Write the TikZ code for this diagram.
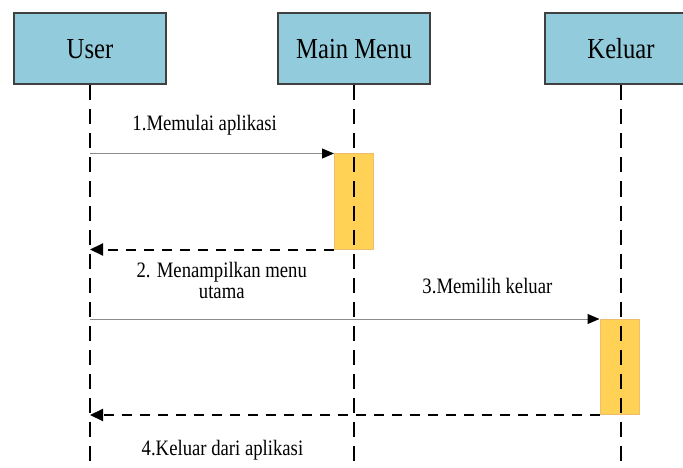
\documentclass[tikz,border=0pt]{standalone}
\usepackage{fontspec}
\setmainfont{Liberation Serif}
\newfontfamily\condserif{Liberation Serif}[FakeStretch=0.85]
\usetikzlibrary{arrows.meta}

\definecolor{objfill}{RGB}{146,204,220}
\definecolor{actfill}{RGB}{255,210,85}
\definecolor{actline}{RGB}{238,190,110}

\tikzset{
  obj/.style={draw=black!75, line width=2pt, fill=objfill, minimum width=152pt,
    minimum height=71pt, font=\condserif\fontsize{29}{34}\selectfont},
  act/.style={draw=actline, line width=1pt, fill=actfill, minimum width=39pt,
    minimum height=95pt, inner sep=0pt},
  life/.style={line width=1.6pt, dash pattern=on 15pt off 9pt},
  msg/.style={draw=black!45, line width=1pt, -{Triangle[length=12pt,width=10pt,black]}},
  ret/.style={line width=2pt, dash pattern=on 10pt off 8pt, -{Triangle[length=13pt,width=12pt]}},
  lbl/.style={font=\condserif\fontsize{22}{21}\selectfont, inner sep=0pt, align=center},
}

\begin{document}
\begin{tikzpicture}[x=1pt, y=-1pt]
\useasboundingbox (0,0) rectangle (683,468);
\clip (0,0) rectangle (683,468);

\def\ux{90}
\def\mx{354}
\def\kx{621}

% objects
\node[obj] (user) at (\ux,49) {User};
\node[obj] (menu) at (\mx,49) {Main Menu};
\node[obj] (keluar) at (\kx,49) {Keluar};

% activation bars
\node[act] (act1) at (\mx,201.5) {};
\node[act] (act2) at (619.5,367) {};

% lifelines
\foreach \o in {user,menu,keluar}
  \draw[life] (\o.south) -- (\o.south |- 0,468);

% messages
\draw[msg] (act1.north west -| user) -- (act1.north west)
  node[lbl, pos=0.47, above=18pt] {1.Memulai aplikasi};
\draw[ret] (act1.south west) -- (act1.south west -| user)
  node[lbl, pos=0.46, below=12pt] {2. Menampilkan menu\\utama};
\draw[msg] (act2.north west -| user) -- (act2.north west)
  node[lbl, pos=0.78, above=25pt] {3.Memilih keluar};
\draw[ret] (act2.south west) -- (act2.south west -| user)
  node[lbl, pos=0.74, below=24pt] {4.Keluar dari aplikasi};
\end{tikzpicture}
\end{document}
